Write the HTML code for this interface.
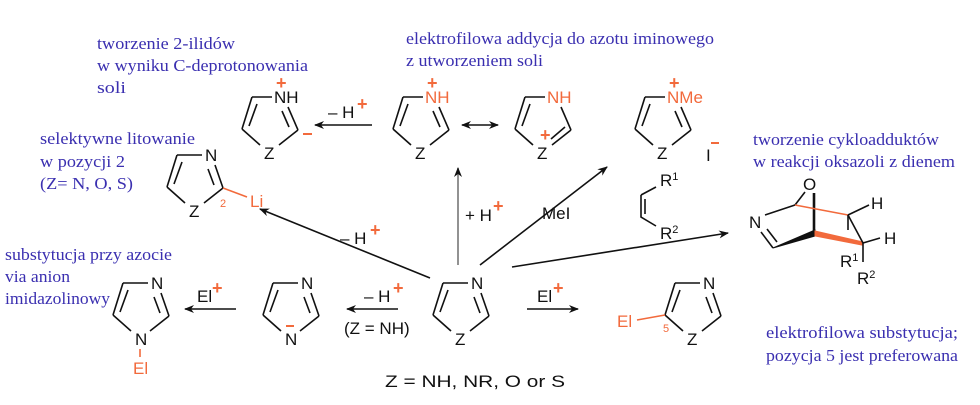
<!DOCTYPE html>
<html><head><meta charset="utf-8"><style>
html,body{margin:0;padding:0;background:#fff;}
svg{display:block;}
.b{font-family:"Liberation Serif",serif;font-size:17px;fill:#3a2fb0;}
.k{font-family:"Liberation Sans",sans-serif;font-size:17px;fill:#111;}
.o{font-family:"Liberation Sans",sans-serif;font-size:17px;fill:#f26a3c;}
.s{font-size:11px;}
.p{font-family:"Liberation Sans",sans-serif;font-size:18px;font-weight:bold;fill:#f26a3c;}
line,polyline,path{stroke:#111;stroke-width:1.6;fill:none;}
.or{stroke:#f26a3c;}
</style></head><body>
<svg width="980" height="405" viewBox="0 0 980 405" xmlns="http://www.w3.org/2000/svg">
<defs>
<marker id="ah" markerWidth="10" markerHeight="8" refX="9" refY="4" orient="auto" markerUnits="userSpaceOnUse">
<path d="M0,0 L10,4 L0,8 L3,4 Z" style="fill:#111;stroke:none"/></marker>
<marker id="at" markerWidth="10" markerHeight="8" refX="1" refY="4" orient="auto" markerUnits="userSpaceOnUse">
<path d="M10,0 L0,4 L10,8 L7,4 Z" style="fill:#111;stroke:none"/></marker>
</defs>

<!-- blue texts -->
<g lengthAdjust="spacingAndGlyphs">
<text class="b" x="97" y="49" textLength="138" lengthAdjust="spacingAndGlyphs">tworzenie 2-ilidów</text>
<text class="b" x="97" y="71" textLength="211" lengthAdjust="spacingAndGlyphs">w wyniku C-deprotonowania</text>
<text class="b" x="97" y="93" textLength="29" lengthAdjust="spacingAndGlyphs">soli</text>
<text class="b" x="406" y="44" textLength="308" lengthAdjust="spacingAndGlyphs">elektrofilowa addycja do azotu iminowego</text>
<text class="b" x="406" y="66" textLength="137" lengthAdjust="spacingAndGlyphs">z utworzeniem soli</text>
<text class="b" x="40" y="144" textLength="155" lengthAdjust="spacingAndGlyphs">selektywne litowanie</text>
<text class="b" x="40" y="167" textLength="85" lengthAdjust="spacingAndGlyphs">w pozycji 2</text>
<text class="b" x="40" y="189" textLength="93" lengthAdjust="spacingAndGlyphs">(Z= N, O, S)</text>
<text class="b" x="753" y="145" textLength="186" lengthAdjust="spacingAndGlyphs">tworzenie cykloadduktów</text>
<text class="b" x="753" y="167" textLength="202" lengthAdjust="spacingAndGlyphs">w reakcji oksazoli z dienem</text>
<text class="b" x="5" y="260" textLength="167" lengthAdjust="spacingAndGlyphs">substytucja przy azocie</text>
<text class="b" x="5" y="282" textLength="65" lengthAdjust="spacingAndGlyphs">via anion</text>
<text class="b" x="5" y="304" textLength="105" lengthAdjust="spacingAndGlyphs">imidazolinowy</text>
<text class="b" x="766" y="338" textLength="192" lengthAdjust="spacingAndGlyphs">elektrofilowa substytucja;</text>
<text class="b" x="766" y="361" textLength="192" lengthAdjust="spacingAndGlyphs">pozycja 5 jest preferowana</text>
</g>
<text class="k" x="385" y="387" textLength="180" lengthAdjust="spacingAndGlyphs">Z = NH, NR, O or S</text>

<!-- central ring -->
<g transform="translate(443,283)">
<line x1="0" y1="0" x2="25" y2="0"/><line x1="38" y1="10" x2="46" y2="33"/><line x1="31" y1="14" x2="37" y2="30"/>
<line x1="46" y1="33" x2="27" y2="48"/><line x1="8" y1="48" x2="-10" y2="32"/><line x1="-10" y1="32" x2="0" y2="0"/><line x1="-3" y1="29" x2="5" y2="7"/>
<text class="k" x="28" y="6">N</text><text class="k" x="12" y="62">Z</text>
</g>
<!-- 5-El ring -->
<g transform="translate(675,283)">
<line x1="0" y1="0" x2="25" y2="0"/><line x1="38" y1="10" x2="46" y2="33"/><line x1="31" y1="14" x2="37" y2="30"/>
<line x1="46" y1="33" x2="27" y2="48"/><line x1="8" y1="48" x2="-10" y2="32"/><line x1="-10" y1="32" x2="0" y2="0"/><line x1="-3" y1="29" x2="5" y2="7"/>
<text class="k" x="28" y="6">N</text><text class="k" x="12" y="62">Z</text>
<line class="or" x1="-10" y1="32" x2="-38" y2="37"/><text class="o" x="-58" y="44">El</text><text class="o s" x="-12" y="49">5</text>
</g>
<!-- imidazolyl anion -->
<g transform="translate(273,283)">
<line x1="0" y1="0" x2="25" y2="0"/><line x1="38" y1="10" x2="46" y2="33"/><line x1="31" y1="14" x2="37" y2="30"/>
<line x1="46" y1="33" x2="27" y2="48"/><line x1="8" y1="48" x2="-10" y2="32"/><line x1="-10" y1="32" x2="0" y2="0"/><line x1="-3" y1="29" x2="5" y2="7"/>
<text class="k" x="28" y="6">N</text><text class="k" x="12" y="62">N</text><line class="or" x1="13" y1="43" x2="21" y2="43" style="stroke-width:2"/>
</g>
<!-- N-El product -->
<g transform="translate(123,283)">
<line x1="0" y1="0" x2="25" y2="0"/><line x1="38" y1="10" x2="46" y2="33"/><line x1="31" y1="14" x2="37" y2="30"/>
<line x1="46" y1="33" x2="27" y2="48"/><line x1="8" y1="48" x2="-10" y2="32"/><line x1="-10" y1="32" x2="0" y2="0"/><line x1="-3" y1="29" x2="5" y2="7"/>
<text class="k" x="28" y="6">N</text><text class="k" x="12" y="62">N</text>
<line class="or" x1="17" y1="66" x2="17" y2="74"/><text class="o" x="10" y="91">El</text>
</g>
<!-- Li ring -->
<g transform="translate(177,155)">
<line x1="0" y1="0" x2="25" y2="0"/><line x1="38" y1="10" x2="46" y2="33"/><line x1="31" y1="14" x2="37" y2="30"/>
<line x1="46" y1="33" x2="27" y2="48"/><line x1="8" y1="48" x2="-10" y2="32"/><line x1="-10" y1="32" x2="0" y2="0"/><line x1="-3" y1="29" x2="5" y2="7"/>
<text class="k" x="28" y="6">N</text><text class="k" x="12" y="62">Z</text>
<line class="or" x1="46" y1="33" x2="70" y2="42"/><text class="o" x="73" y="52">Li</text><text class="o s" x="43" y="52">2</text>
</g>
<!-- ylide -->
<g transform="translate(252,97)">
<line x1="0" y1="0" x2="20" y2="0"/><line x1="36" y1="10" x2="46" y2="33"/><line x1="30" y1="14" x2="37" y2="30"/>
<line x1="46" y1="33" x2="27" y2="48"/><line x1="8" y1="48" x2="-10" y2="32"/><line x1="-10" y1="32" x2="0" y2="0"/><line x1="-3" y1="29" x2="5" y2="7"/>
<text class="k" x="22" y="6">NH</text><text class="p" x="24" y="-8">+</text><text class="k" x="12" y="62">Z</text>
<line class="or" x1="51" y1="37" x2="60" y2="37" style="stroke-width:2"/>
</g>
<!-- NH+ ring 1 -->
<g transform="translate(403,97)">
<line x1="0" y1="0" x2="20" y2="0"/><line x1="36" y1="10" x2="46" y2="33"/><line x1="30" y1="14" x2="37" y2="30"/>
<line x1="46" y1="33" x2="27" y2="48"/><line x1="8" y1="48" x2="-10" y2="32"/><line x1="-10" y1="32" x2="0" y2="0"/><line x1="-3" y1="29" x2="5" y2="7"/>
<text class="o" x="22" y="6">NH</text><text class="p" x="24" y="-8">+</text><text class="k" x="12" y="62">Z</text>
</g>
<!-- NH ring resonance -->
<g transform="translate(525,97)">
<line x1="0" y1="0" x2="20" y2="0"/><line x1="36" y1="10" x2="46" y2="33"/>
<line x1="46" y1="33" x2="27" y2="48"/><line x1="40" y1="30" x2="26" y2="42"/><line x1="8" y1="48" x2="-10" y2="32"/><line x1="-10" y1="32" x2="0" y2="0"/><line x1="-3" y1="29" x2="5" y2="7"/>
<text class="o" x="22" y="6">NH</text><text class="p" x="15" y="44">+</text><text class="k" x="12" y="62">Z</text>
</g>
<!-- NMe ring -->
<g transform="translate(645,97)">
<line x1="0" y1="0" x2="20" y2="0"/><line x1="36" y1="10" x2="46" y2="33"/><line x1="30" y1="14" x2="37" y2="30"/>
<line x1="46" y1="33" x2="27" y2="48"/><line x1="8" y1="48" x2="-10" y2="32"/><line x1="-10" y1="32" x2="0" y2="0"/><line x1="-3" y1="29" x2="5" y2="7"/>
<text class="o" x="22" y="6">NMe</text><text class="p" x="24" y="-8">+</text><text class="k" x="12" y="62">Z</text>
</g>
<text class="k" x="706" y="161">I</text><line class="or" x1="711" y1="143" x2="719" y2="143" style="stroke-width:2"/>

<!-- arrows -->
<line x1="372" y1="125" x2="315" y2="125" marker-end="url(#ah)"/>
<text class="k" x="328" y="118">– H</text><text class="p" x="357" y="110">+</text>
<line x1="462" y1="125" x2="498" y2="125" marker-end="url(#ah)" marker-start="url(#at)"/>
<line x1="458" y1="265" x2="458" y2="168" marker-end="url(#ah)" style="stroke:#777"/>
<text class="k" x="465" y="221">+ H</text><text class="p" x="493" y="212">+</text>
<line x1="480" y1="265" x2="607" y2="167" marker-end="url(#ah)"/>
<text class="k" x="542" y="219">MeI</text>
<line x1="430" y1="278" x2="260" y2="209" marker-end="url(#ah)"/>
<text class="k" x="340" y="244">– H</text><text class="p" x="370" y="236">+</text>
<line x1="512" y1="267" x2="728" y2="233" marker-end="url(#ah)"/>
<line x1="527" y1="309" x2="578" y2="309" marker-end="url(#ah)"/>
<text class="k" x="537" y="302">El</text><text class="p" x="553" y="294">+</text>
<line x1="398" y1="309" x2="347" y2="309" marker-end="url(#ah)"/>
<text class="k" x="364" y="302">– H</text><text class="p" x="393" y="294">+</text>
<text class="k" x="344" y="334">(Z = NH)</text>
<line x1="236" y1="309" x2="185" y2="309" marker-end="url(#ah)"/>
<text class="k" x="197" y="302">El</text><text class="p" x="212" y="294">+</text>

<!-- alkene -->
<line x1="641" y1="195" x2="656" y2="187"/>
<polyline points="641,195 641,217 656,226"/>
<line x1="645" y1="199" x2="645" y2="214"/>
<text class="k" x="660" y="186">R<tspan class="s" dy="-6">1</tspan></text>
<text class="k" x="660" y="239">R<tspan class="s" dy="-6">2</tspan></text>

<!-- cycloadduct -->
<text class="k" x="749" y="228">N</text>
<text class="k" x="803" y="190">O</text>
<line x1="765" y1="215" x2="795" y2="205"/>
<line x1="795" y1="205" x2="805" y2="192"/>
<line x1="814" y1="193" x2="814" y2="233" style="stroke-width:2.6"/>
<line x1="761" y1="232" x2="773" y2="248"/>
<line x1="767" y1="229" x2="777" y2="242"/>
<path d="M773,248 L815,230 L815,236 Z" style="fill:#111;stroke:#111;stroke-width:1"/>
<line class="or" x1="795" y1="205" x2="848" y2="215"/>
<path d="M815,231 L863,242 L862,245 L815,236 Z" style="fill:#f26a3c;stroke:#f26a3c;stroke-width:1"/>
<line x1="848" y1="215" x2="869" y2="205"/>
<line x1="848" y1="215" x2="848" y2="230"/>
<line x1="848" y1="215" x2="863" y2="243"/>
<line x1="863" y1="243" x2="880" y2="238"/>
<line x1="863" y1="243" x2="863" y2="262"/>
<text class="k" x="871" y="209">H</text>
<text class="k" x="884" y="244">H</text>
<text class="k" x="840" y="267">R<tspan class="s" dy="-6">1</tspan></text>
<text class="k" x="857" y="284">R<tspan class="s" dy="-6">2</tspan></text>
</svg>
</body></html>
